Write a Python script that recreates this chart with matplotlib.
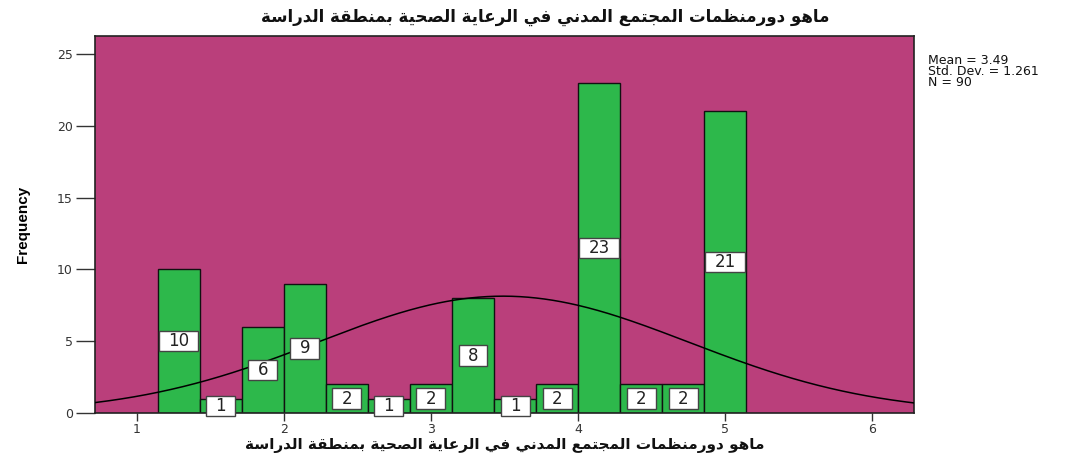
import numpy as np
import matplotlib
matplotlib.use("Agg")
import matplotlib.pyplot as plt
from matplotlib.path import Path

# ---------------- data ----------------
bin_centers = [9/7, 11/7, 13/7, 15/7, 17/7, 19/7, 21/7, 23/7, 25/7, 27/7, 29/7, 31/7, 33/7, 35/7]
frequencies = [10, 1, 6, 9, 2, 1, 2, 8, 1, 2, 23, 2, 2, 21]
bin_width = 2/7
mean_val = 3.49
std_val = 1.261
n_val = 90
x_ticks = [1, 2, 3, 4, 5, 6]
y_ticks = [0, 5, 10, 15, 20, 25]
title_text = "ماهو دورمنظمات المجتمع المدني في الرعاية الصحية بمنطقة الدراسة"
ylabel_text = "Frequency"
stats_text = "Mean = 3.49\nStd. Dev. = 1.261\nN = 90"

# -------- minimal Arabic shaping (presentation forms) --------
FORMS = {
    'ا': ('\uFE8D', '\uFE8E', None, None),
    'ب': ('\uFE8F', '\uFE90', '\uFE91', '\uFE92'),
    'ة': ('\uFE93', '\uFE94', None, None),
    'ت': ('\uFE95', '\uFE96', '\uFE97', '\uFE98'),
    'ج': ('\uFE9D', '\uFE9E', '\uFE9F', '\uFEA0'),
    'ح': ('\uFEA1', '\uFEA2', '\uFEA3', '\uFEA4'),
    'د': ('\uFEA9', '\uFEAA', None, None),
    'ر': ('\uFEAD', '\uFEAE', None, None),
    'س': ('\uFEB1', '\uFEB2', '\uFEB3', '\uFEB4'),
    'ص': ('\uFEB9', '\uFEBA', '\uFEBB', '\uFEBC'),
    'ط': ('\uFEC1', '\uFEC2', '\uFEC3', '\uFEC4'),
    'ظ': ('\uFEC5', '\uFEC6', '\uFEC7', '\uFEC8'),
    'ع': ('\uFEC9', '\uFECA', '\uFECB', '\uFECC'),
    'ف': ('\uFED1', '\uFED2', '\uFED3', '\uFED4'),
    'ق': ('\uFED5', '\uFED6', '\uFED7', '\uFED8'),
    'ل': ('\uFEDD', '\uFEDE', '\uFEDF', '\uFEE0'),
    'م': ('\uFEE1', '\uFEE2', '\uFEE3', '\uFEE4'),
    'ن': ('\uFEE5', '\uFEE6', '\uFEE7', '\uFEE8'),
    'ه': ('\uFEE9', '\uFEEA', '\uFEEB', '\uFEEC'),
    'و': ('\uFEED', '\uFEEE', None, None),
    'ي': ('\uFEF1', '\uFEF2', '\uFEF3', '\uFEF4'),
}


def shape_arabic(s):
    out = []
    for i, ch in enumerate(s):
        if ch not in FORMS:
            out.append(ch)
            continue
        prev = s[i - 1] if i > 0 else ''
        nxt = s[i + 1] if i + 1 < len(s) else ''
        jp = prev in FORMS and FORMS[prev][2] is not None
        jn = FORMS[ch][2] is not None and nxt in FORMS
        iso, fin, ini, med = FORMS[ch]
        if jp and jn:
            out.append(med)
        elif jp:
            out.append(fin)
        elif jn:
            out.append(ini)
        else:
            out.append(iso)
    return ''.join(out)[::-1]


arabic_vis = shape_arabic(title_text)


def wide_box(x0, y0, width, height, mutation_size):
    px = 0.55 * mutation_size
    py = 0.07 * mutation_size
    xa, ya = x0 - px, y0 - py
    xb, yb = x0 + width + px, y0 + height + py
    return Path([(xa, ya), (xb, ya), (xb, yb), (xa, yb), (xa, ya)],
                [Path.MOVETO, Path.LINETO, Path.LINETO, Path.LINETO, Path.CLOSEPOLY])


# ---------------- figure ----------------
fig = plt.figure(figsize=(10.91, 4.57), dpi=100)
ax = fig.add_axes([0.0871, 0.0963, 0.8378 - 0.0871, 0.9212 - 0.0963])

bg = '#BA3F7B'
green = '#2DB84B'
ax.set_facecolor(bg)

ax.bar(bin_centers, frequencies, width=bin_width, color=green,
       edgecolor='#111111', linewidth=1.0, zorder=2)

# normal curve
xs = np.linspace(0.717, 6.283, 400)
ys = n_val * bin_width / (std_val * np.sqrt(2 * np.pi)) * np.exp(-0.5 * ((xs - mean_val) / std_val) ** 2)
ax.plot(xs, ys, color='black', linewidth=1.1, zorder=3)

# bar labels
for xc, f in zip(bin_centers, frequencies):
    ax.text(xc, f / 2, str(f), ha='center', va='center', fontsize=12,
            family='DejaVu Sans', color='#222222', zorder=4,
            bbox=dict(boxstyle=wide_box, fc='white', ec='#444444', lw=1.0))

ax.set_xlim(0.717, 6.283)
ax.set_ylim(0, 26.25)
ax.set_xticks(x_ticks)
ax.set_yticks(y_ticks)
ax.tick_params(axis='y', direction='out', length=14, width=1.0, color='#333333',
               labelsize=9, labelcolor='#333333', pad=2)
ax.tick_params(axis='x', direction='out', length=6, width=1.0, color='#333333',
               labelsize=9, labelcolor='#333333', pad=1)
for lab in ax.get_xticklabels() + ax.get_yticklabels():
    lab.set_family('DejaVu Sans')
for sp in ax.spines.values():
    sp.set_color('#222222')
    sp.set_linewidth(1.2)

ax.set_ylabel(ylabel_text, family=['Liberation Sans Narrow', 'Liberation Sans'],
              fontweight='bold', fontsize=11, labelpad=0)
ax.yaxis.set_label_coords(-0.08, 0.5)

fig.text(0.463, 0.026, arabic_vis, ha='center', va='center', family='DejaVu Sans',
         fontweight='bold', fontsize=11, color='#111111')

fig.text(0.4995, 0.962, arabic_vis, ha='center', va='center', family='DejaVu Sans',
         fontweight='bold', fontsize=12, color='#111111')

fig.text(0.851, 0.882, stats_text, ha='left', va='top',
         family='DejaVu Sans', fontsize=9, linespacing=0.78, color='#111111')

fig.savefig('out.png', dpi=100, facecolor='white')
